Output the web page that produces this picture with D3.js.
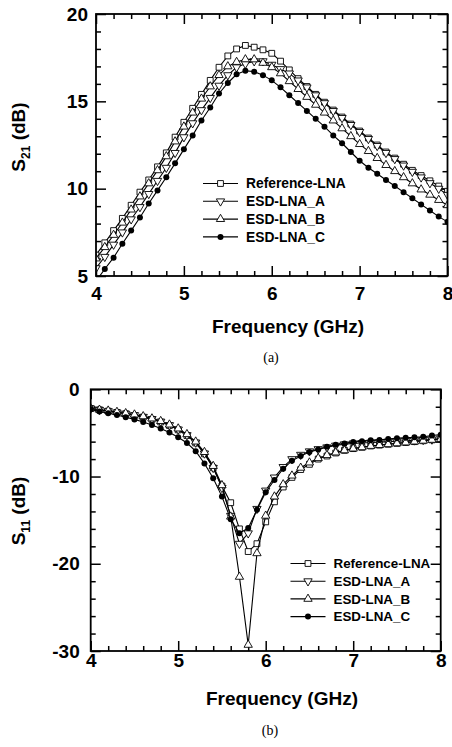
<!DOCTYPE html>
<html>
<head>
<meta charset="utf-8">
<script src="https://cdn.jsdelivr.net/npm/d3@7"></script>
<style>
body { margin: 0; background: #fff; }
svg { display: block; font-family: "Liberation Sans", Arial, sans-serif; }
</style>
</head>
<body>
<script>
// frequency points (GHz), one marker every 0.1 GHz
const freq = [4.0, 4.1, 4.2, 4.3, 4.4, 4.5, 4.6, 4.7, 4.8, 4.9,
              5.0, 5.1, 5.2, 5.3, 5.4, 5.5, 5.6, 5.7, 5.8, 5.9,
              6.0, 6.1, 6.2, 6.3, 6.4, 6.5, 6.6, 6.7, 6.8, 6.9,
              7.0, 7.1, 7.2, 7.3, 7.4, 7.5, 7.6, 7.7, 7.8, 7.9, 8.0];

const seriesNames = ["Reference-LNA", "ESD-LNA_A", "ESD-LNA_B", "ESD-LNA_C"];
const seriesMarks = ["square", "down", "up", "dot"];

// (a) S21 in dB
const s21Ref = [6.2, 6.9, 7.6, 8.3, 9.05, 9.8, 10.5, 11.25, 12.05, 12.95,
                13.8, 14.6, 15.4, 16.2, 16.95, 17.6, 18.0, 18.2, 18.1, 17.95,
                17.75, 17.3, 16.8, 16.3, 15.85, 15.4, 14.95, 14.5, 14.1, 13.7,
                13.3, 12.9, 12.5, 12.1, 11.75, 11.4, 11.05, 10.75, 10.45, 10.15, 9.85];
const s21A = [5.45, 6.1, 6.8, 7.5, 8.25, 8.95, 9.7, 10.45, 11.2, 12.05,
              12.95, 13.75, 14.5, 15.2, 15.9, 16.5, 16.95, 17.15, 17.3, 17.3,
              17.1, 16.85, 16.6, 16.2, 15.8, 15.35, 14.9, 14.45, 14.05, 13.65,
              13.25, 12.85, 12.45, 12.05, 11.7, 11.33, 10.97, 10.65, 10.32, 10.0, 9.65];
const s21B = [6.0, 6.65, 7.35, 8.05, 8.8, 9.55, 10.3, 11.05, 11.85, 12.7,
              13.55, 14.35, 15.15, 15.85, 16.5, 17.0, 17.25, 17.4, 17.4, 17.2,
              16.95, 16.6, 16.15, 15.7, 15.25, 14.8, 14.35, 13.9, 13.45, 13.0,
              12.55, 12.15, 11.75, 11.35, 11.0, 10.65, 10.3, 9.95, 9.65, 9.35, 9.05];
const s21C = [4.7, 5.4, 6.05, 6.85, 7.6, 8.35, 9.15, 9.9, 10.65, 11.45,
              12.25, 13.05, 13.9, 14.65, 15.45, 16.05, 16.55, 16.75, 16.7, 16.5,
              16.2, 15.8, 15.35, 14.9, 14.45, 14.0, 13.55, 13.05, 12.6, 12.1,
              11.6, 11.2, 10.85, 10.5, 10.15, 9.8, 9.45, 9.1, 8.75, 8.4, 8.1];

// (b) S11 in dB
const s11Ref = [-2.2, -2.35, -2.5, -2.65, -2.8, -3.0, -3.2, -3.45, -3.75, -4.15,
                -4.65, -5.3, -6.15, -7.4, -9.0, -11.1, -13.0, -16.0, -18.6, -17.7,
                -15.2, -12.9, -11.2, -10.1, -9.2, -8.6, -8.0, -7.65, -7.3, -7.0,
                -6.8, -6.65, -6.5, -6.4, -6.3, -6.2, -6.1, -6.0, -5.9, -5.8, -5.7];
const s11A = [-2.2, -2.35, -2.5, -2.65, -2.8, -2.95, -3.15, -3.4, -3.7, -4.1,
              -4.6, -5.25, -6.1, -7.35, -9.0, -11.3, -14.5, -17.7, -16.5, -13.7,
              -11.6, -10.1, -8.9, -8.0, -7.5, -7.1, -6.85, -6.65, -6.45, -6.3,
              -6.2, -6.15, -6.1, -6.05, -6.0, -5.95, -5.9, -5.85, -5.8, -5.75, -5.65];
const s11B = [-2.2, -2.35, -2.45, -2.6, -2.75, -2.9, -3.1, -3.35, -3.65, -4.05,
              -4.5, -5.15, -6.0, -7.2, -8.8, -11.0, -14.6, -21.5, -29.3, -18.8,
              -14.5, -12.3, -10.9, -9.9, -9.0, -8.4, -7.9, -7.55, -7.25, -7.0,
              -6.8, -6.65, -6.5, -6.4, -6.3, -6.2, -6.1, -6.0, -5.9, -5.8, -5.7];
const s11C = [-2.3, -2.55, -2.75, -2.95, -3.2, -3.45, -3.75, -4.1, -4.5, -4.95,
              -5.5, -6.15, -7.1, -8.5, -10.2, -12.3, -14.9, -16.5, -15.9, -13.8,
              -11.8, -10.4, -9.1, -8.2, -7.65, -7.2, -6.9, -6.6, -6.35, -6.2,
              -6.05, -5.95, -5.85, -5.8, -5.7, -5.6, -5.55, -5.5, -5.45, -5.3, -5.2];

// tick labels
const xTicks = [4, 5, 6, 7, 8];
const s21Ticks = [5, 10, 15, 20];
const s11Ticks = [-30, -20, -10, 0];

const svg = d3.select("body").append("svg")
    .attr("width", 452)
    .attr("height", 747);

svg.append("rect")
    .attr("width", 452)
    .attr("height", 747)
    .attr("fill", "#fff");

function addMarker(sel, kind, px, py) {
    if (kind === "dot") {
        sel.append("circle")
            .attr("cx", px).attr("cy", py).attr("r", 3)
            .attr("fill", "#000");
        return;
    }
    const type = kind === "square" ? d3.symbolSquare : d3.symbolTriangle;
    const size = kind === "square" ? 34 : 30;
    sel.append("path")
        .attr("d", d3.symbol().type(type).size(size)())
        .attr("transform", `translate(${px},${py})` + (kind === "down" ? " rotate(180)" : ""))
        .attr("fill", "#fff")
        .attr("stroke", "#000")
        .attr("stroke-width", 0.9);
}

function styleAxis(g) {
    g.select(".domain").remove();
    g.selectAll(".tick line").attr("stroke", "#000").attr("stroke-width", 1.5);
    g.selectAll(".tick text")
        .attr("fill", "#000")
        .attr("font-size", 19)
        .attr("font-weight", "bold")
        .attr("font-family", "'Liberation Sans', Arial, sans-serif");
}

function drawPanel(p) {
    const x = d3.scaleLinear().domain([4, 8]).range([p.left, p.right]);
    const y = d3.scaleLinear().domain(p.yDomain).range([p.bottom, p.top]);
    const g = svg.append("g");
    const w = p.right - p.left, h = p.bottom - p.top;

    g.append("clipPath").attr("id", p.id)
        .append("rect")
        .attr("x", p.left).attr("y", p.top)
        .attr("width", w).attr("height", h);

    const xMinor = d3.range(4, 8.001, 0.2).filter(v => Math.abs(v - Math.round(v)) > 0.01);
    const yMinor = d3.range(p.yDomain[0], p.yDomain[1] + 0.001, p.yMinorStep)
        .filter(v => !p.yTicks.includes(v));

    // ticks, all pointing inward
    g.append("g").attr("transform", `translate(0,${p.bottom})`)
        .call(d3.axisBottom(x).tickValues(xMinor).tickSize(-5).tickFormat(""))
        .call(styleAxis);
    g.append("g").attr("transform", `translate(0,${p.bottom})`)
        .call(d3.axisBottom(x).tickValues(xTicks).tickSize(-10).tickPadding(p.xPad).tickFormat(d => String(d)))
        .call(styleAxis);
    g.append("g").attr("transform", `translate(0,${p.top})`)
        .call(d3.axisTop(x).tickValues(xMinor).tickSize(-5).tickFormat(""))
        .call(styleAxis);
    g.append("g").attr("transform", `translate(0,${p.top})`)
        .call(d3.axisTop(x).tickValues(xTicks).tickSize(-10).tickFormat(""))
        .call(styleAxis);
    g.append("g").attr("transform", `translate(${p.left},0)`)
        .call(d3.axisLeft(y).tickValues(yMinor).tickSize(-5).tickFormat(""))
        .call(styleAxis);
    g.append("g").attr("transform", `translate(${p.left},0)`)
        .call(d3.axisLeft(y).tickValues(p.yTicks).tickSize(-10).tickPadding(p.yPad).tickFormat(d => String(d)))
        .call(styleAxis);
    g.append("g").attr("transform", `translate(${p.right},0)`)
        .call(d3.axisRight(y).tickValues(yMinor).tickSize(-5).tickFormat(""))
        .call(styleAxis);
    g.append("g").attr("transform", `translate(${p.right},0)`)
        .call(d3.axisRight(y).tickValues(p.yTicks).tickSize(-10).tickFormat(""))
        .call(styleAxis);

    // curves
    const plot = g.append("g").attr("clip-path", `url(#${p.id})`);
    const line = d3.line().x((d, i) => x(freq[i])).y(d => y(d));
    p.series.forEach((vals, si) => {
        plot.append("path")
            .attr("d", line(vals))
            .attr("fill", "none")
            .attr("stroke", "#000")
            .attr("stroke-width", 1.1);
        vals.forEach((v, i) => addMarker(plot, seriesMarks[si], x(freq[i]), y(v)));
    });

    g.append("rect")
        .attr("x", p.left).attr("y", p.top)
        .attr("width", w).attr("height", h)
        .attr("fill", "none")
        .attr("stroke", "#000")
        .attr("stroke-width", 1.8);

    // legend
    const lg = g.append("g");
    seriesNames.forEach((name, i) => {
        const ly = p.legend.y + i * p.legend.step;
        lg.append("line")
            .attr("x1", p.legend.x).attr("x2", p.legend.x + 35)
            .attr("y1", ly).attr("y2", ly)
            .attr("stroke", "#000").attr("stroke-width", 1.1);
        addMarker(lg, seriesMarks[i], p.legend.x + 17.5, ly);
        lg.append("text")
            .attr("x", p.legend.x + 43)
            .attr("y", ly)
            .attr("dy", "0.36em")
            .attr("font-size", p.legend.fontSize)
            .attr("font-weight", "bold")
            .text(name);
    });

    // axis titles
    g.append("text")
        .attr("x", p.xTitle[0]).attr("y", p.xTitle[1])
        .attr("text-anchor", "middle")
        .attr("font-size", 19)
        .attr("font-weight", "bold")
        .text("Frequency (GHz)");

    const yt = g.append("text")
        .attr("transform", `translate(${p.yTitle[0]},${p.yTitle[1]}) rotate(-90)`)
        .attr("text-anchor", "middle")
        .attr("font-size", 19)
        .attr("font-weight", "bold");
    yt.append("tspan").text("S");
    yt.append("tspan").attr("font-size", 12).attr("dy", 5).text(p.sub);
    yt.append("tspan").attr("dy", -5).text(" (dB)");

    g.append("text")
        .attr("x", p.caption[0]).attr("y", p.caption[1])
        .attr("text-anchor", "middle")
        .attr("font-family", "'Liberation Serif', 'Times New Roman', serif")
        .attr("font-size", 14)
        .text(p.captionText);
}

drawPanel({
    id: "clipA",
    left: 96, right: 447.5, top: 14, bottom: 276,
    yDomain: [5, 20], yTicks: s21Ticks, yMinorStep: 1,
    xPad: 11, yPad: 8,
    series: [s21Ref, s21A, s21B, s21C],
    legend: { x: 203, y: 183.5, step: 17.8, fontSize: 13.8 },
    xTitle: [288, 333], yTitle: [25, 137], sub: "21",
    caption: [271, 362], captionText: "(a)"
});

drawPanel({
    id: "clipB",
    left: 90.7, right: 440.7, top: 389.3, bottom: 651,
    yDomain: [-30, 0], yTicks: s11Ticks, yMinorStep: 2,
    xPad: 2.5, yPad: 11,
    series: [s11Ref, s11A, s11B, s11C],
    legend: { x: 290.5, y: 563.5, step: 17.7, fontSize: 13.4 },
    xTitle: [282, 705], yTitle: [25, 511], sub: "11",
    caption: [270, 735], captionText: "(b)"
});
</script>
</body>
</html>
